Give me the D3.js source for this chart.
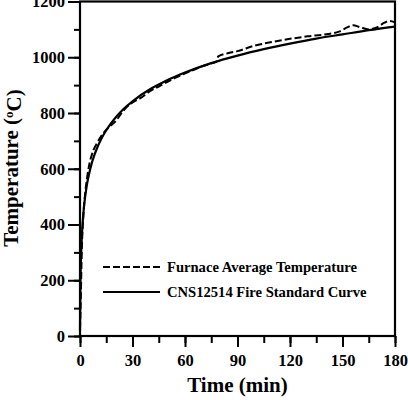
<!DOCTYPE html>
<html>
<meta charset="utf-8">
<script src="https://cdn.jsdelivr.net/npm/d3@7"></script>
<title>Furnace Temperature</title>
<body style="margin:0;background:#fff">
<script type="text/javascript">

// time (min) -> temperature (C)
var standardTime = [0, 0.25, 0.5, 1, 1.5, 2, 3, 4, 5, 7, 10, 12, 15, 20, 25, 30, 40, 45, 50, 60, 75, 90, 105, 120, 135, 150, 165, 180];
var standardTemp = [20, 185, 261, 349, 404, 445, 502, 544, 576, 626, 678, 705, 738, 781, 815, 842, 885, 902, 918, 945, 979, 1006, 1029, 1049, 1067, 1082, 1097, 1110];

var furnaceTime = [0, 0.5, 1, 2, 3, 4, 5, 7, 10, 13, 16, 20, 25, 30, 35, 40, 45, 50, 55, 60, 65, 70, 75, 78, 79, 85, 90, 100, 110, 120, 130, 140, 148, 153, 156, 160, 165, 170, 174, 177, 180];
var furnaceTemp = [25, 150, 300, 440, 515, 565, 605, 655, 695, 725, 746, 768, 810, 838, 855, 878, 895, 912, 928, 942, 955, 968, 978, 985, 1003, 1015, 1022, 1042, 1055, 1066, 1075, 1082, 1092, 1108, 1115, 1108, 1100, 1108, 1124, 1130, 1125];

var xTicks = [0, 30, 60, 90, 120, 150, 180];
var yTicks = [0, 200, 400, 600, 800, 1000, 1200];
var legendLabels = ["Furnace Average Temperature", "CNS12514 Fire Standard Curve"];

var FONT = "Liberation Serif";
var size = { width: 408, height: 400 };
var plot = { left: 80, right: 395, top: 1.5, bottom: 336 };

var x = d3.scaleLinear().domain([0, 180]).range([plot.left, plot.right]);
var y = d3.scaleLinear().domain([0, 1200]).range([plot.bottom, plot.top]);

var svg = d3.select("body").append("svg")
    .attr("width", size.width)
    .attr("height", size.height);

function pairs(ts, vs) {
    return ts.map(function(t, i) { return { t: t, v: vs[i] }; });
}

var line = d3.line()
    .curve(d3.curveMonotoneX)
    .x(function(d) { return x(d.t); })
    .y(function(d) { return y(d.v); });

svg.append("path")
    .attr("d", line(pairs(furnaceTime, furnaceTemp)))
    .attr("fill", "none")
    .attr("stroke", "#000")
    .attr("stroke-width", 2)
    .attr("stroke-dasharray", "7,3");

svg.append("path")
    .attr("d", line(pairs(standardTime, standardTemp)))
    .attr("fill", "none")
    .attr("stroke", "#000")
    .attr("stroke-width", 2.2);

// minor ticks
svg.append("g")
    .attr("transform", "translate(" + plot.left + ",0)")
    .call(d3.axisLeft(y).tickValues(d3.range(0, 1201, 100)).tickSize(6).tickFormat(""))
    .call(function(g) { g.select(".domain").remove(); });
svg.append("g")
    .attr("transform", "translate(0," + plot.bottom + ")")
    .call(d3.axisBottom(x).tickValues(d3.range(0, 181, 15)).tickSize(7).tickFormat(""))
    .call(function(g) { g.select(".domain").remove(); });

// major ticks + labels
var yAxis = svg.append("g")
    .attr("transform", "translate(" + plot.left + ",0)")
    .call(d3.axisLeft(y).tickValues(yTicks).tickFormat(d3.format("d")).tickSize(12).tickPadding(3).tickSizeOuter(0));
var xAxis = svg.append("g")
    .attr("transform", "translate(0," + plot.bottom + ")")
    .call(d3.axisBottom(x).tickValues(xTicks).tickFormat(d3.format("d")).tickSize(11).tickPadding(7).tickSizeOuter(0));

svg.selectAll(".tick line").attr("stroke-width", 2);
svg.selectAll(".domain").remove();

// frame
svg.append("rect")
    .attr("x", plot.left)
    .attr("y", plot.top)
    .attr("width", plot.right - plot.left)
    .attr("height", plot.bottom - plot.top)
    .attr("fill", "none")
    .attr("stroke", "#000")
    .attr("stroke-width", 2.2);

// titles
svg.append("text")
    .attr("x", (plot.left + plot.right) / 2)
    .attr("y", 392)
    .attr("text-anchor", "middle")
    .style("font-size", "21px")
    .text("Time (min)");

var yt = svg.append("text")
    .attr("transform", "translate(18,168) rotate(-90)")
    .attr("text-anchor", "middle")
    .style("font-size", "21px");
yt.append("tspan").text("Temperature (");
yt.append("tspan").attr("dy", "-0.4em").style("font-size", "13px").text("o");
yt.append("tspan").attr("dy", "0.4em").text("C)");

// legend
var legend = svg.append("g");
[0, 1].forEach(function(i) {
    var ly = 267 + i * 25;
    legend.append("line")
        .attr("x1", 103).attr("x2", 160)
        .attr("y1", ly).attr("y2", ly)
        .attr("stroke", "#000")
        .attr("stroke-width", 2)
        .attr("stroke-dasharray", i === 0 ? "7,3" : null);
    legend.append("text")
        .attr("x", 167)
        .attr("y", ly)
        .attr("dy", "0.35em")
        .style("font-size", "14.6px")
        .text(legendLabels[i]);
});

svg.selectAll("text")
    .style("font-family", FONT)
    .style("font-weight", "bold")
    .attr("fill", "#000");
yAxis.selectAll(".tick text").style("font-size", "16.5px");
xAxis.selectAll(".tick text").style("font-size", "16.5px");

</script>
</body>
</html>
